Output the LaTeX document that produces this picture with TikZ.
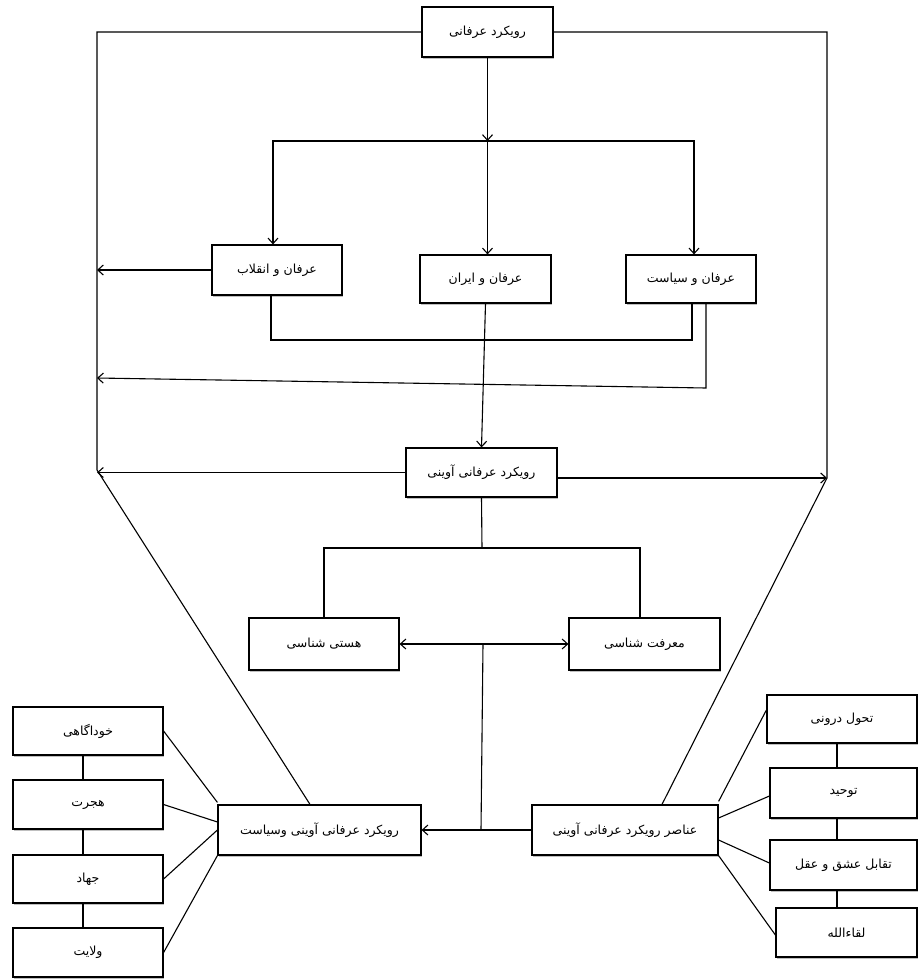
\documentclass[tikz,border=0pt]{standalone}
\usepackage{fontspec}
\newfontfamily\fa[Script=Arabic]{DejaVu Sans}
\TeXXeTstate=1
\usetikzlibrary{arrows.meta,shadows}
\newcommand{\rt}[1]{\beginR #1\endR}
\begin{document}
\begin{tikzpicture}[x=1pt,y=-1pt,
  box/.style={draw=black, line width=1.2pt, fill=white, rectangle, inner sep=0pt,
    font=\fa\fontsize{12.5}{14}\selectfont, text=black,
    drop shadow={shadow xshift=1pt, shadow yshift=-1.6pt, opacity=0.5}},
  conn/.style={draw=black, line width=1.1pt},
  >={Straight Barb[length=5.5pt,width=10pt]}]
\useasboundingbox[fill=white] (0,0) rectangle (918,980);

% boxes
\node[box,minimum width=131pt,minimum height=50pt] (T) at (487.5,32) {\rt{رویکرد عرفانی}};
\node[box,minimum width=130pt,minimum height=50pt] (Enq) at (277,270) {\rt{عرفان و انقلاب}};
\node[box,minimum width=131pt,minimum height=48pt] (Iran) at (485.5,279) {\rt{عرفان و ایران}};
\node[box,minimum width=130pt,minimum height=48pt] (Siy) at (691,279) {\rt{عرفان و سیاست}};
\node[box,minimum width=151pt,minimum height=49pt] (Aw) at (481.5,472.5) {\rt{رویکرد عرفانی آوینی}};
\node[box,minimum width=150pt,minimum height=52pt] (Hasti) at (324,644) {\rt{هستی شناسی}};
\node[box,minimum width=151pt,minimum height=52pt] (Marefat) at (644.5,644) {\rt{معرفت شناسی}};
\node[box,minimum width=203pt,minimum height=50pt] (Siy2) at (319.5,830) {\rt{رویکرد عرفانی آوینی وسیاست}};
\node[box,minimum width=186pt,minimum height=50pt] (Anasir) at (625,830) {\rt{عناصر رویکرد عرفانی آوینی}};
\node[box,minimum width=150pt,minimum height=48pt] (L1) at (88,731) {\rt{خوداگاهی}};
\node[box,minimum width=150pt,minimum height=49pt] (L2) at (88,804.5) {\rt{هجرت}};
\node[box,minimum width=150pt,minimum height=48pt] (L3) at (88,879) {\rt{جهاد}};
\node[box,minimum width=150pt,minimum height=49pt] (L4) at (88,952.5) {\rt{ولایت}};
\node[box,minimum width=150pt,minimum height=48pt] (R1) at (842,719) {\rt{تحول درونی}};
\node[box,minimum width=147pt,minimum height=50pt] (R2) at (843.5,793) {\rt{توحید}};
\node[box,minimum width=147pt,minimum height=50pt] (R3) at (843.5,865) {\rt{تقابل عشق و عقل}};
\node[box,minimum width=141pt,minimum height=49pt] (R4) at (846.5,932.5) {\rt{لقاءالله}};

% helper coordinates
\coordinate (F) at (487.5,141);
\coordinate (LA) at (97,470);
\coordinate (RA) at (827,478);
\coordinate (B1) at (692,340);
\coordinate (B3) at (706,388);
\coordinate (B4) at (97,378);
\coordinate (F3) at (482,548);
\coordinate (M) at (483,644);
\coordinate (M2) at (481,830);

% outer frame
\draw[conn] (T.west) -| (LA) -- ([xshift=-9.5pt]Siy2.north);
\draw[conn] (T.east) -| (RA) -- ([xshift=37pt]Anasir.north);

% top distribution
\draw[conn,->] (T.south) -- (F);
\draw[conn,->] (F) -| ([xshift=-4pt]Enq.north);
\draw[conn,->] (F) -| ([xshift=3pt]Siy.north);
\draw[conn,->] (F) -- (F |- Iran.north);

\draw[conn,->] (Enq.west) -- (Enq.west -| LA);
\draw[conn] ([xshift=-6pt]Enq.south) |- (B1) -- (B1 |- Siy.south);
\draw[conn,->] ([xshift=15pt]Siy.south) -- (B3) -- (B4);
\draw[conn,->] (Iran.south) -- (Aw.north);

\draw[conn,->] (Aw.west) -- (Aw.west -| LA);
\draw[conn,->] ([yshift=-5.5pt]Aw.east) -- (RA);

\draw[conn] (Aw.south) -- (F3);
\draw[conn] (Hasti.north) |- (F3) -| ([xshift=-4.5pt]Marefat.north);
\draw[conn,<->] (Hasti.east) -- (Marefat.west);
\draw[conn] (M) -- (M2);
\draw[conn,->] (M2) -- (Siy2.east);
\draw[conn] (M2) -- (Anasir.west);

% left column
\draw[conn] ([xshift=-5pt]L1.south) -- ([xshift=-5pt]L2.north);
\draw[conn] ([xshift=-5pt]L2.south) -- ([xshift=-5pt]L3.north);
\draw[conn] ([xshift=-5pt]L3.south) -- ([xshift=-5pt]L4.north);
\draw[conn] (L1.east) -- ([yshift=2pt]Siy2.north west);
\draw[conn] (L2.east) -- ([yshift=8pt]Siy2.west);
\draw[conn] (L3.east) -- (Siy2.west);
\draw[conn] (L4.east) -- (Siy2.south west);

% right column
\draw[conn] ([xshift=-5pt]R1.south) -- ([xshift=-5pt]R1.south |- R2.north);
\draw[conn] ([xshift=-6.5pt]R2.south) -- ([xshift=-6.5pt]R2.south |- R3.north);
\draw[conn] ([xshift=-6.5pt]R3.south) -- ([xshift=-6.5pt]R3.south |- R4.north);
\draw[conn] ([yshift=3pt]Anasir.north east) -- ([yshift=9pt]R1.west);
\draw[conn] ([yshift=12pt]Anasir.east) -- ([yshift=-3pt]R2.west);
\draw[conn] ([yshift=-10pt]Anasir.east) -- ([yshift=2pt]R3.west);
\draw[conn] (Anasir.south east) -- ([yshift=-2.5pt]R4.west);
\end{tikzpicture}
\end{document}
